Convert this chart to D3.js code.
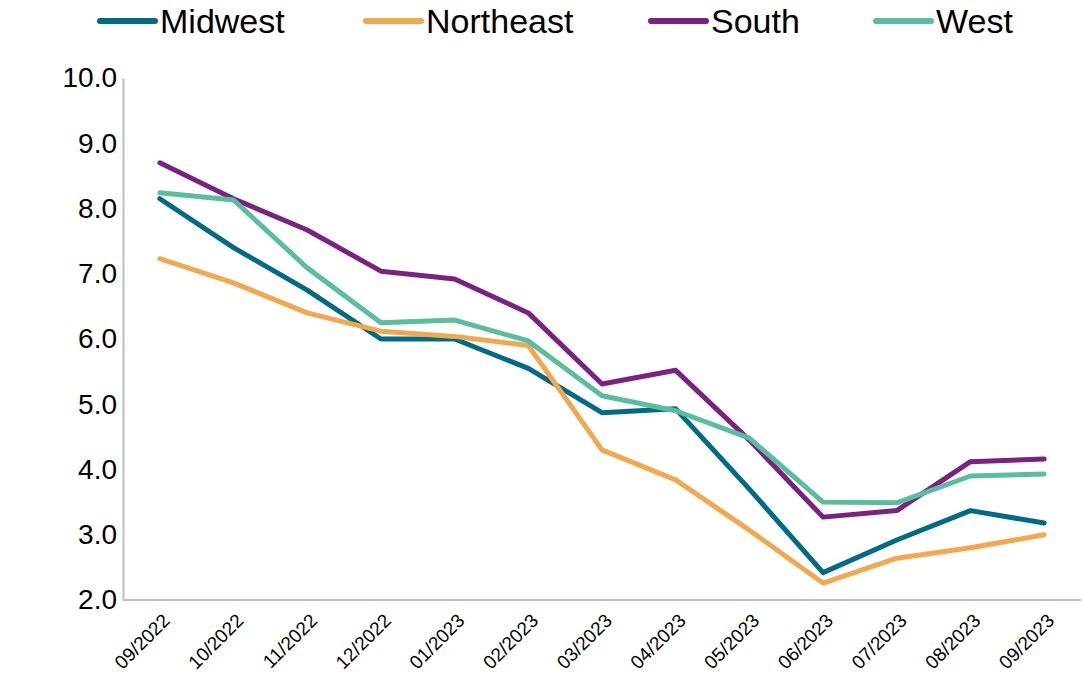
<!DOCTYPE html>
<html><head><meta charset="utf-8">
<script src="https://cdn.jsdelivr.net/npm/d3@7"></script>
<style>body{margin:0;background:#fff;}svg{display:block;font-family:"Liberation Sans",Arial,sans-serif;}</style>
</head><body>
<svg id="chart" width="1084" height="684"></svg>
<script>
const months = ["09/2022","10/2022","11/2022","12/2022","01/2023","02/2023","03/2023","04/2023","05/2023","06/2023","07/2023","08/2023","09/2023"];
const midwest   = [8.15,7.40,6.75,6.00,6.00,5.55,4.87,4.93,3.70,2.42,2.92,3.37,3.18];
const northeast = [7.23,6.86,6.40,6.12,6.04,5.90,4.30,3.84,3.07,2.26,2.64,2.80,3.00];
const south     = [8.70,8.15,7.67,7.04,6.92,6.40,5.31,5.52,4.45,3.27,3.37,4.12,4.16];
const west      = [8.24,8.13,7.09,6.25,6.29,5.97,5.13,4.90,4.48,3.50,3.49,3.90,3.93];
const yTicks = [2,3,4,5,6,7,8,9,10];
const seriesNames = ["Midwest","Northeast","South","West"];
const seriesColors = ["#006B86","#F2A84E","#7A2182","#58BE9E"];
const seriesData = [midwest, northeast, south, west];

(function(){
const svg = d3.select("#chart");
const mLeft = 123, mRight = 1081, mTop = 78, mBottom = 600;
const x = d3.scalePoint().domain(months).range([mLeft, mRight]).padding(0.5);
const y = d3.scaleLinear().domain([2,10]).range([mBottom, mTop]);

// axes
const yAxis = svg.append("g").attr("transform",`translate(${mLeft},0)`)
  .call(d3.axisLeft(y).tickValues(yTicks).tickFormat(d3.format(".1f")).tickSize(0).tickPadding(6));
yAxis.select(".domain").attr("stroke","#BFBFBF").attr("stroke-width",2);
yAxis.selectAll("text").attr("font-size",28).attr("fill","#000").attr("font-family","Liberation Sans, Arial, sans-serif");

const xAxis = svg.append("g").attr("transform",`translate(0,${mBottom})`)
  .call(d3.axisBottom(x).tickSize(0).tickPadding(0));
xAxis.select(".domain").attr("stroke","#BFBFBF").attr("stroke-width",2).attr("d",`M${mLeft},0H${mRight}`);
xAxis.selectAll("text")
  .attr("font-size",19).attr("fill","#000")
  .attr("font-family","Liberation Sans, Arial, sans-serif")
  .attr("text-anchor","end").attr("dy","0.35em")
  .attr("transform","translate(6,17) rotate(-45)");

// lines
const line = d3.line().x((d,i)=>x(months[i])).y(d=>y(d));
seriesData.forEach((s,k)=>{
  svg.append("path").datum(s).attr("d",line).attr("fill","none")
    .attr("stroke",seriesColors[k]).attr("stroke-width",5)
    .attr("stroke-linejoin","round").attr("stroke-linecap","round");
});

// legend
const legendX = [100,366,651,876];
seriesNames.forEach((n,k)=>{
  const g = svg.append("g").attr("transform",`translate(${legendX[k]},21)`);
  g.append("line").attr("x1",0).attr("x2",55).attr("y1",0).attr("y2",0)
    .attr("stroke",seriesColors[k]).attr("stroke-width",6).attr("stroke-linecap","round");
  g.append("text").attr("x",60).attr("y",0).attr("dy","0.35em").attr("font-size",34)
    .attr("fill","#000").text(n);
});
})();
</script>
</body></html>
